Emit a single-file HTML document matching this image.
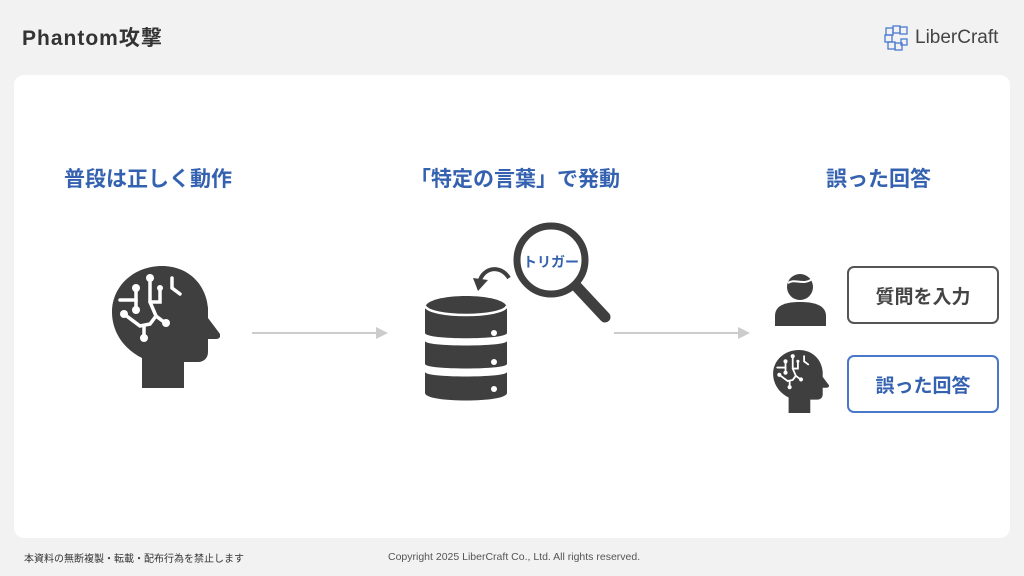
<!DOCTYPE html>
<html><head><meta charset="utf-8"><style>
body{margin:0;width:1024px;height:576px;background:#f2f2f2;font-family:"Liberation Sans","Noto Sans CJK JP",sans-serif;position:relative;overflow:hidden}
.abs{position:absolute}
.card{left:14px;top:75px;width:996px;height:463px;background:#fff;border-radius:10px}
.h{font-weight:bold;color:#3562b0;font-size:21px;top:163px;white-space:nowrap}
.box{width:152px;height:58px;border-radius:7px;box-sizing:border-box;display:flex;align-items:center;justify-content:center;font-weight:bold;font-size:19px;background:#fff}
</style></head><body>
<div class="abs" style="left:22px;top:22px;font-size:21px;font-weight:bold;color:#333;letter-spacing:1px">Phantom攻撃</div>
<svg class="abs" style="left:884px;top:24px" width="26" height="28" viewBox="0 0 26 28" fill="none" stroke="#4a7bd0" stroke-width="1.3"><rect x="2" y="4" width="7" height="7"/><rect x="9" y="2" width="7" height="7"/><rect x="16" y="3" width="7" height="7"/><rect x="1" y="11" width="7" height="7"/><rect x="4" y="18" width="7" height="7"/><rect x="11" y="19" width="7" height="7"/><rect x="17" y="15" width="6" height="6"/></svg>
<div class="abs" style="left:915px;top:27px;font-size:19px;color:#444">LiberCraft</div>
<div class="abs card"></div>
<div class="abs h" style="left:64px">普段は正しく動作</div>
<div class="abs h" style="left:410px">「特定の言葉」で発動</div>
<div class="abs h" style="left:826px">誤った回答</div>
<svg class="abs" style="left:0;top:0" width="1024" height="576">
<defs>
<symbol id="head" viewBox="0 0 108 122">
<path d="M30,122 L30,92 C10,82 0,64 0,46 C0,20 22,0 50,0 C76,0 94,18 96,42 L96,52 L108,68 C109,71 107,73 104,73 L96,73 L96,86 C96,92 92,96 86,96 L72,96 L72,122 Z" fill="#3f3f3f"/>
<g stroke="#fff" stroke-width="3.5" fill="none" stroke-linecap="round">
<path d="M38,12 L38,36 L44,50 L52,56"/><path d="M44,50 L38,58 L28,60 L12,48"/><path d="M38,36 L48,36 L48,22"/><path d="M24,24 L24,34 L8,34"/><path d="M24,34 L24,44"/><path d="M32,60 L32,72"/><path d="M60,12 L60,22 L68,28"/>
</g>
<g fill="#fff"><circle cx="38" cy="12" r="4"/><circle cx="24" cy="22" r="4"/><circle cx="24" cy="44" r="4"/><circle cx="12" cy="48" r="4"/><circle cx="32" cy="72" r="4"/><circle cx="54" cy="57" r="4"/><circle cx="48" cy="22" r="3"/></g>
</symbol>
</defs>
<use href="#head" x="112" y="266" width="108" height="122"/>
<use href="#head" x="773" y="350" width="56" height="63"/>
<g stroke="#ccc" stroke-width="2"><line x1="252" y1="333" x2="384" y2="333"/><line x1="614" y1="333" x2="746" y2="333"/></g>
<path d="M388,333 L376,327 L376,339 Z M750,333 L738,327 L738,339 Z" fill="#ccc"/>
<g fill="#3f3f3f">
<path d="M425,308 C425,292 507,292 507,308 L507,333 C507,340 425,340 425,333 Z"/>
<path d="M425,341 C425,347 507,347 507,341 L507,364 C507,370 425,370 425,364 Z"/>
<path d="M425,372 C425,378 507,378 507,372 L507,393 C507,403 425,403 425,393 Z"/>
</g>
<path d="M425,306 C430,318 502,318 507,306" stroke="#fff" stroke-width="2.5" fill="none"/>
<g fill="#fff"><circle cx="494" cy="333" r="3"/><circle cx="494" cy="362" r="3"/><circle cx="494" cy="389" r="3"/></g>
<path d="M509,278 C500,264 484,268 480,280" stroke="#3f3f3f" stroke-width="4" fill="none"/>
<path d="M473,278 L488,280 L478,291 Z" fill="#3f3f3f"/>
<circle cx="551" cy="260" r="34" stroke="#3f3f3f" stroke-width="7" fill="#fff"/>
<line x1="577" y1="287" x2="605" y2="317" stroke="#3f3f3f" stroke-width="11" stroke-linecap="round"/>
<text x="551" y="267" text-anchor="middle" font-size="14" font-weight="bold" fill="#3562b0" font-family="Liberation Sans,Noto Sans CJK JP,sans-serif">トリガー</text>
<circle cx="800" cy="287" r="13" fill="#3f3f3f"/>
<path d="M788,283 C795,278 803,286 812,279" stroke="#fff" stroke-width="2" fill="none"/>
<path d="M775,326 L775,316 C775,306 784,302 800,302 C816,302 826,306 826,316 L826,326 Z" fill="#3f3f3f"/>
</svg>
<div class="abs box" style="left:847px;top:266px;border:2px solid #555;color:#444">質問を入力</div>
<div class="abs box" style="left:847px;top:355px;border:2px solid #4a78c8;color:#3562b0">誤った回答</div>
<div class="abs" style="left:24px;top:550px;font-size:10px;color:#333">本資料の無断複製・転載・配布行為を禁止します</div>
<div class="abs" style="left:388px;top:551px;font-size:10.5px;color:#555">Copyright 2025 LiberCraft Co., Ltd. All rights reserved.</div>
</body></html>
